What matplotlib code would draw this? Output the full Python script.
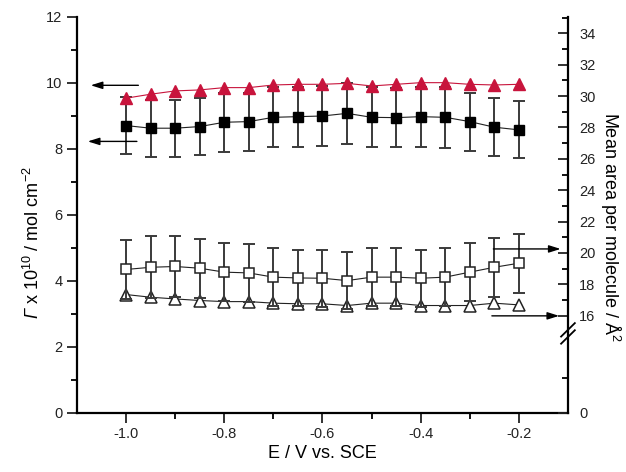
import numpy as np
import matplotlib
matplotlib.use('Agg')
import matplotlib.pyplot as plt

plt.rcParams['font.family'] = ['Liberation Sans', 'DejaVu Sans']
plt.rcParams['axes.unicode_minus'] = False
plt.rcParams['mathtext.fontset'] = 'custom'
plt.rcParams['mathtext.rm'] = 'Liberation Sans'
plt.rcParams['mathtext.it'] = 'Liberation Sans:italic'
plt.rcParams['mathtext.sf'] = 'Liberation Sans:italic'

# data
potential = [-1.0, -0.95, -0.9, -0.85, -0.8, -0.75, -0.7, -0.65, -0.6,
             -0.55, -0.5, -0.45, -0.4, -0.35, -0.3, -0.25, -0.2]
gamma_red = [9.54, 9.66, 9.76, 9.79, 9.86, 9.86, 9.94, 9.96, 9.96,
             9.99, 9.91, 9.96, 10.01, 10.01, 9.96, 9.94, 9.96]
gamma_sq = [8.71, 8.63, 8.63, 8.68, 8.81, 8.83, 8.96, 8.98, 9.00,
            9.08, 8.96, 8.95, 8.98, 8.96, 8.83, 8.66, 8.58]
gamma_sq_err = [0.86, 0.86, 0.86, 0.86, 0.89, 0.88, 0.91, 0.91, 0.91,
                0.93, 0.91, 0.90, 0.91, 0.92, 0.88, 0.88, 0.86]
area_sq = [18.94, 19.08, 19.13, 19.02, 18.77, 18.72, 18.45, 18.40, 18.38,
           18.23, 18.45, 18.45, 18.38, 18.45, 18.77, 19.08, 19.34]
area_sq_err = [1.91, 1.98, 1.93, 1.87, 1.87, 1.86, 1.85, 1.81, 1.83,
               1.81, 1.85, 1.85, 1.83, 1.85, 1.85, 1.88, 1.87]
area_tri = [17.34, 17.17, 17.06, 16.96, 16.89, 16.89, 16.79, 16.75, 16.75,
            16.64, 16.79, 16.79, 16.64, 16.64, 16.64, 16.79, 16.68]

x_major = [-1.0, -0.8, -0.6, -0.4, -0.2]
x_minor = [-0.9, -0.7, -0.5, -0.3]
right_major = [0, 16, 18, 20, 22, 24, 26, 28, 30, 32, 34]
right_minor = [5.8, 17, 19, 21, 23, 25, 27, 29, 31, 33, 35]

RED = '#c8143c'
ERR = '#3a3a3a'

# broken right axis: 0..16 squeezed, 16..35 linear
BRK = 2.953
SLOPE = 0.4749


def fwd(v):
    v = np.asarray(v, dtype=float)
    return np.where(v < 16, v * BRK / 16, BRK + (v - 16) * SLOPE)


def inv(t):
    t = np.asarray(t, dtype=float)
    return np.where(t < BRK, t * 16 / BRK, 16 + (t - BRK) / SLOPE)


fig = plt.figure(figsize=(6.26, 4.72), dpi=100)
ax = fig.add_axes([0.123, 0.125, 0.7843, 0.839])
ax2 = ax.twinx()

# left axis series
ax.errorbar(potential, gamma_sq, yerr=gamma_sq_err, fmt='none', ecolor=ERR,
            elinewidth=1.4, capsize=4, capthick=1.4, zorder=2)
ax.plot(potential, gamma_sq, '-', color='#222222', lw=0.8, marker='s',
        ms=7.5, mfc='black', mec='black', zorder=3)
ax.plot(potential, gamma_red, '-', color=RED, lw=0.8, marker='^',
        ms=8.5, mfc=RED, mec=RED, zorder=4)

# right axis series
ax2.plot(potential, area_tri, '-', color='#222222', lw=0.8, marker='^',
         ms=8, mfc='white', mec='#222222', mew=1.1, zorder=2)
ax2.errorbar(potential, area_sq, yerr=area_sq_err, fmt='none', ecolor=ERR,
             elinewidth=1.4, capsize=4, capthick=1.4, zorder=3)
ax2.plot(potential, area_sq, '-', color='#222222', lw=0.8, marker='s',
         ms=7, mfc='white', mec='#222222', mew=1.1, zorder=4)

ax.set_xlim(-1.1, -0.1)
ax.set_ylim(0, 12)
ax2.set_yscale('function', functions=(fwd, inv))
ax2.set_ylim(0, float(inv(12)))

# left / bottom ticks
ax.set_xticks(x_major)
ax.set_xticklabels(['%.1f' % v for v in x_major])
ax.set_xticks(x_minor, minor=True)
ax.set_yticks(range(0, 13, 2))
ax.set_yticks(range(1, 12, 2), minor=True)
ax.tick_params(which='major', direction='out', length=7, width=1.3,
               labelsize=10.5, colors='#222222')
ax.tick_params(which='minor', direction='out', length=4, width=1.3)
ax.tick_params(axis='x', pad=3)

# right ticks
ax2.set_yticks(right_major)
ax2.set_yticklabels([str(v) for v in right_major])
ax2.set_yticks(right_minor, minor=True)
ax2.tick_params(which='major', direction='in', length=7, width=1.3,
                labelsize=10.5, colors='#222222', pad=8)
ax2.tick_params(which='minor', direction='in', length=4, width=1.3)

for a in (ax, ax2):
    a.spines['top'].set_visible(False)
    for s in a.spines.values():
        s.set_linewidth(1.6)
ax2.spines['left'].set_visible(False)
ax2.spines['bottom'].set_visible(False)
ax.spines['right'].set_visible(False)

ax.set_xlabel('E / V vs. SCE', fontsize=13, labelpad=3)
ax.set_ylabel(r'$\mathsf{\Gamma}$ x 10$^{10}$ / mol cm$^{-2}$', fontsize=13,
              labelpad=2)
ax.yaxis.label.set_y(0.43)
ax2.set_ylabel('Mean area per molecule / Å$^2$', fontsize=13, rotation=270,
               va='bottom', labelpad=2)
ax2.yaxis.label.set_y(0.47)

# pointer arrows
arrow = dict(arrowstyle='-|>,head_length=0.7,head_width=0.22', color='black',
             lw=1.0, shrinkA=0, shrinkB=0)
ax.annotate('', xy=(-1.072, 9.93), xytext=(-0.975, 9.93), arrowprops=arrow)
ax.annotate('', xy=(-1.078, 8.23), xytext=(-0.978, 8.23), arrowprops=arrow)
ax2.annotate('', xy=(-0.115, 20.25), xytext=(-0.252, 20.25), arrowprops=arrow)
ax2.annotate('', xy=(-0.118, 15.95), xytext=(-0.255, 15.95), arrowprops=arrow)

# axis break marks on the right spine
for y0 in (0.192, 0.210):
    ax2.plot([0.986, 1.014], [y0 - 0.017, y0 + 0.017], color='black', lw=1.3,
             transform=ax2.transAxes, clip_on=False, zorder=6)

fig.savefig('out.png', dpi=100)
